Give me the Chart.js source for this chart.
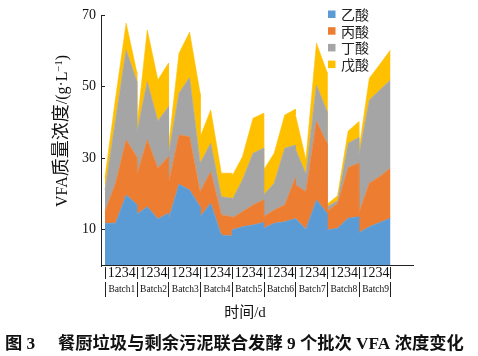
<!DOCTYPE html>
<html><head><meta charset="utf-8">
<script src="https://cdn.jsdelivr.net/npm/chart.js@4.4.1/dist/chart.umd.min.js"></script>
<style>html,body{margin:0;padding:0;background:#fff;}#c{display:block;}</style>
</head><body>
<canvas id="c" width="478" height="356"></canvas>
<script>
// ---- data ----
const batches = ['Batch1','Batch2','Batch3','Batch4','Batch5','Batch6','Batch7','Batch8','Batch9'];
const days = ['1','2','3','4'];
const seriesNames = ['乙酸','丙酸','丁酸','戊酸'];
const acetic = [11.7,11.7,19.6,17.0, 14.2,16.3,12.9,14.5, 12.8,22.6,21.0,16.3, 13.5,17.3,8.4,8.1, 9.8,10.7,11.2,11.9, 10.3,11.7,12.1,13.0, 13.0,10.0,18.2,14.5, 9.8,10.3,13.1,13.5, 9.0,10.7,11.9,13.1];
const propionic = [3.2,11.2,15.4,13.3, 11.0,18.7,14.2,15.8, 10.1,13.8,14.9,4.2, 7.0,8.8,5.6,5.4, 3.3,4.2,5.6,6.3, 3.2,3.7,4.7,11.3, 9.5,10.5,22.1,19.5, 5.2,7.0,14.2,15.0, 5.5,12.2,12.9,14.0];
const butyric = [6.1,17.7,25.2,21.2, 11.8,16.3,13.2,14.0, 8.1,11.7,16.6,8.0, 8.0,8.0,5.1,5.2, 5.1,8.9,14.5,14.5, 6.1,7.5,15.9,9.3, 10.0,5.0,10.1,9.0, 1.3,0.7,6.8,7.2, 16.0,23.3,24.2,24.7];
const valeric = [3.5,6.1,7.5,2.6, 1.5,14.5,11.5,12.2, 2.0,11.2,12.7,19.5, 7.4,9.3,6.6,7.0, 6.6,6.5,9.8,9.8, 7.0,8.4,9.3,10.0, 9.5,4.0,11.7,11.0, 0.7,1.4,3.4,4.4, 1.5,6.1,7.2,8.4];
const yTicks = [10,30,50,70];
const yTitleParts = ['VFA','质量浓度','/(g·L','−1',')'];
const xTitle = '时间/d';
const caption = '餐厨垃圾与剩余污泥联合发酵 9 个批次 VFA 浓度变化';
const captionNo = '图 3';

// ---- styles ----
const colors = ['#5B9BD5','#ED7D31','#A5A5A5','#FFC000'];
const SERIF = '"Liberation Serif","Noto Sans CJK SC"';
const CJK = '"Noto Sans CJK SC"';
const nd = days.length;
function xPos(i){ const b = Math.floor(i/nd), d = i % nd; return b*(nd-1) + d + (d===0 && b>0 ? 0.01 : 0); }
const allSeries = [acetic, propionic, butyric, valeric];

const datasets = allSeries.map((arr, k) => ({
  label: seriesNames[k],
  data: arr.map((v,i)=>({x:xPos(i), y:v})),
  backgroundColor: colors[k],
  borderColor: colors[k],
  borderWidth: 0.6,
  pointRadius: 0,
  tension: 0,
  fill: k===0 ? 'origin' : '-1'
}));

const decor = {
  id:'decor',
  afterDraw(chart){
    const ctx = chart.ctx, xs = chart.scales.x, ys = chart.scales.y;
    const left = chart.chartArea.left, bottom = chart.chartArea.bottom;
    ctx.save();
    ctx.strokeStyle = '#222'; ctx.lineWidth = 1;
    yTicks.forEach(v=>{ const y = Math.round(ys.getPixelForValue(v))+0.5; ctx.beginPath(); ctx.moveTo(left, y); ctx.lineTo(left+4, y); ctx.stroke(); });
    ctx.beginPath(); ctx.moveTo(left+0.5, bottom); ctx.lineTo(left+0.5, bottom+2); ctx.stroke();
    ctx.fillStyle = '#111';
    ctx.textAlign = 'center'; ctx.textBaseline = 'middle';
    for (let b=0; b<=batches.length; b++){
      const x = Math.round(xs.getPixelForValue(b*(nd-1)))+0.5;
      ctx.beginPath(); ctx.moveTo(x, bottom+2); ctx.lineTo(x, bottom+14); ctx.stroke();
      ctx.beginPath(); ctx.moveTo(x, bottom+17); ctx.lineTo(x, bottom+32); ctx.stroke();
    }
    batches.forEach((name,b)=>{
      const cx = (xs.getPixelForValue(b*(nd-1)) + xs.getPixelForValue((b+1)*(nd-1)))/2;
      ctx.font = '14px '+SERIF; ctx.fillText(days.join(''), cx+1, bottom+8);
      ctx.font = '9.5px '+SERIF; ctx.fillText(name, cx+1, bottom+24.5);
    });
    ctx.font = '15px '+SERIF; ctx.fillStyle='#111';
    ctx.fillText(xTitle, 245, 313);
    // y title (rotated), mixed fonts
    ctx.save();
    ctx.translate(62, 131); ctx.rotate(-Math.PI/2);
    const fonts = ['16px '+SERIF, '18px '+CJK, '16px '+SERIF, '10.5px '+SERIF, '16px '+SERIF];
    const dy = [0,0,0,-5.5,0];
    const widths = yTitleParts.map((t,i)=>{ ctx.font = fonts[i]; return ctx.measureText(t).width; });
    let x0 = -widths.reduce((a,b)=>a+b,0)/2;
    ctx.textAlign='left'; ctx.textBaseline='alphabetic';
    yTitleParts.forEach((t,i)=>{ ctx.font = fonts[i]; ctx.fillText(t, x0, 5+dy[i]); x0 += widths[i]; });
    ctx.restore();
    // legend
    ctx.textAlign='left'; ctx.textBaseline='middle';
    ctx.font = '14px '+CJK;
    seriesNames.forEach((n,k)=>{
      const y = 14 + k*16.7;
      ctx.fillStyle = colors[k]; ctx.fillRect(328, y-3.5, 7.5, 7.5);
      ctx.fillStyle = '#222'; ctx.fillText(n, 341, y+0.5);
    });
    // caption
    ctx.fillStyle = '#111';
    ctx.font = 'bold 17.3px '+SERIF;
    ctx.fillText(captionNo, 5, 345);
    ctx.fillText(caption, 58, 345);
    ctx.restore();
  }
};

new Chart(document.getElementById('c'), {
  type:'line',
  data:{ datasets },
  options:{
    responsive:false, animation:false, devicePixelRatio:1,
    layout:{ padding:{ top:15, right:65, bottom:0, left:0 } },
    plugins:{ legend:{display:false}, tooltip:{enabled:false} },
    elements:{ line:{ borderJoinStyle:'miter' } },
    scales:{
      x:{ type:'linear', min:-0.378, max:29.13,
          ticks:{display:false}, grid:{display:false, drawTicks:false},
          border:{display:true, color:'#222', width:1},
          afterFit(s){ s.height = 91; } },
      y:{ stacked:true, min:0, max:70,
          afterBuildTicks(s){ s.ticks = yTicks.map(v=>({value:v})); },
          ticks:{ font:{family:SERIF, size:14}, color:'#111', padding:5 },
          grid:{display:false, drawTicks:false},
          border:{display:true, color:'#222', width:1},
          afterFit(s){ s.width = 101; } }
    }
  },
  plugins:[decor]
});
</script>
</body></html>
